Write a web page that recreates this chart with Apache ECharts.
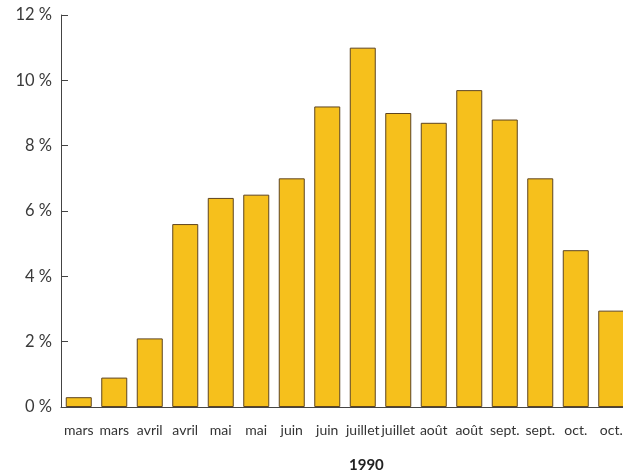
<!DOCTYPE html>
<html>
<head>
<meta charset="utf-8">
<script src="https://cdn.jsdelivr.net/npm/echarts@6/dist/echarts.min.js"></script>
<style>
  html, body { margin: 0; padding: 0; background: #fff; overflow: hidden; }
  /* le graphique d'origine est coupé à droite : on dessine plus large et on rogne */
  #wrap { width: 623px; height: 473px; overflow: hidden; }
  #chart { width: 640px; height: 473px; }
</style>
</head>
<body>
<div id="wrap"><div id="chart"></div></div>
<script>
// données
const months = ['mars', 'mars', 'avril', 'avril', 'mai', 'mai', 'juin', 'juin',
  'juillet', 'juillet', 'août', 'août', 'sept.', 'sept.', 'oct.', 'oct.'];
const shares = [0.3, 0.9, 2.1, 5.6, 6.4, 6.5, 7.0, 9.2, 11.0, 9.0, 8.7, 9.7, 8.8, 7.0, 4.8, 2.95];
const yearLabel = '1990';

const chart = echarts.init(document.getElementById('chart'));

const option = {
  animation: false,
  textStyle: { fontFamily: 'Lato' },
  title: {
    text: yearLabel,
    left: 344,
    top: 453,
    textStyle: { fontFamily: 'Lato', fontSize: 15, fontWeight: 'bold', color: '#222' }
  },
  grid: {
    left: 61,
    top: 15,
    width: 568,
    height: 392
  },
  xAxis: {
    type: 'category',
    data: months,
    axisLine: { lineStyle: { color: '#444', width: 1 } },
    axisTick: { inside: true, length: 5, lineStyle: { color: '#444' } },
    axisLabel: {
      interval: 0,
      margin: 16,
      fontSize: 14,
      color: '#333',
      fontFamily: 'Lato'
    }
  },
  yAxis: {
    type: 'value',
    min: 0,
    max: 12,
    interval: 2,
    axisLine: { show: true, lineStyle: { color: '#444', width: 1 } },
    axisTick: { show: true, inside: true, length: 7, lineStyle: { color: '#444' } },
    splitLine: { show: false },
    axisLabel: {
      formatter: '{value} %',
      margin: 9,
      fontSize: 16.5,
      color: '#3a3a3a',
      fontFamily: 'Lato'
    }
  },
  series: [
    {
      type: 'bar',
      data: shares,
      barWidth: 26,
      itemStyle: {
        color: '#F6C01C',
        borderColor: '#5e4420',
        borderWidth: 1
      }
    }
  ]
};

chart.setOption(option);
</script>
</body>
</html>
